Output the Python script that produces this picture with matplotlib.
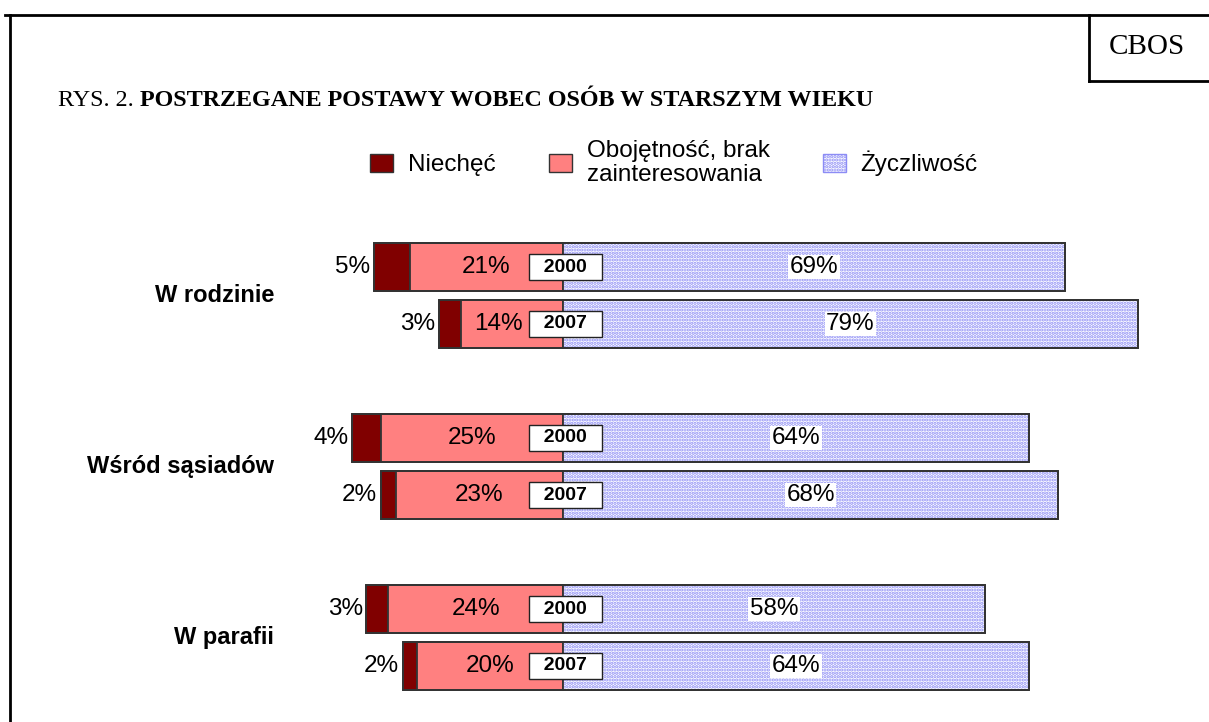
import matplotlib
matplotlib.use("Agg")
import matplotlib.pyplot as plt
from matplotlib.patches import Patch
from matplotlib.lines import Line2D

plt.rcParams['hatch.linewidth'] = 1.6
plt.rcParams['font.family'] = ['Liberation Sans', 'DejaVu Sans']

categories = ['W rodzinie', 'Wśród sąsiadów', 'W parafii']
years = ['2000', '2007']
niechec = [5, 3, 4, 2, 3, 2]
obojetnosc = [21, 14, 25, 23, 24, 20]
zyczliwosc = [69, 79, 64, 68, 58, 64]
series_names = ['Niechęć', 'Obojętność, brak\nzainteresowania', 'Życzliwość']

C_DARK = '#800000'
C_SALMON = '#FF8080'
C_DOT = '#8C8CF5'
EDGE = '#333333'

W, H = 1209, 722
fig = plt.figure(figsize=(W / 100, H / 100), dpi=100)
ax = fig.add_axes([0, 0, 1, 1])
ax.set_axis_off()

px_per_pct = 7.28
zero_px = 563
ax.set_xlim(-zero_px / px_per_pct, (W - zero_px) / px_per_pct)
row_px = 57
first_px = 267
ax.set_ylim((H - first_px) / row_px, -first_px / row_px)

ypos = []
for g in range(len(categories)):
    for j in range(len(years)):
        ypos.append(g * 3 + j)

bh = 0.84
FS = 17.5
for i, y in enumerate(ypos):
    n, o, z = niechec[i], obojetnosc[i], zyczliwosc[i]
    ax.barh(y, n, left=-(n + o), height=bh, color=C_DARK, edgecolor=EDGE, linewidth=1.3, zorder=2)
    ax.barh(y, o, left=-o, height=bh, color=C_SALMON, edgecolor=EDGE, linewidth=1.3, zorder=2)
    ax.barh(y, z, left=0, height=bh, facecolor='white', edgecolor=C_DOT, hatch='.....', linewidth=0, zorder=2)
    ax.barh(y, z, left=0, height=bh, fill=False, edgecolor=EDGE, linewidth=1.3, zorder=3)
    ax.barh(y, n + o + z, left=-(n + o), height=bh, fill=False, edgecolor=EDGE, linewidth=1.3, zorder=3)
    # labels
    ax.text(-(n + o) - 0.5, y, f'{n}%', ha='right', va='center', fontsize=FS, zorder=5)
    ax.text(min(-o / 2, -8.8), y, f'{o}%', ha='center', va='center', fontsize=FS, zorder=5)
    ax.text(z / 2, y, f'{z}%', ha='center', va='center', fontsize=FS, zorder=5,
            bbox=dict(facecolor='white', edgecolor='none', pad=1.0))
    ax.text(0.34, y, '  ' + years[i % 2] + '  ', ha='center', va='center', fontsize=14,
            fontweight='bold', zorder=6,
            bbox=dict(boxstyle='square,pad=0.22', facecolor='white', edgecolor='#222222', linewidth=1))

for g, cat in enumerate(categories):
    ax.text(-39.7, g * 3 + 0.5, cat, ha='right', va='center', fontsize=17, fontweight='bold')

# title
TY = 1 - 100 / H
t = fig.text(58 / W, TY, 'RYS. 2. ', fontsize=17.4, family='Liberation Serif', va='center')
fig.canvas.draw()
bb = t.get_window_extent()
fig.text(bb.x1 / W, TY, 'POSTRZEGANE POSTAWY WOBEC OSÓB W STARSZYM WIEKU',
         fontsize=17.4, family='Liberation Serif', fontweight='bold', va='center')

fig.text(1147 / W, 1 - 47 / H, 'CBOS', fontsize=21, family='Liberation Serif', ha='center', va='center')

# frame
lw = 2
fig.add_artist(Line2D([5 / W, 1], [1 - 15 / H, 1 - 15 / H], color='black', lw=lw))
fig.add_artist(Line2D([10 / W, 10 / W], [0, 1 - 15 / H], color='black', lw=lw))
fig.add_artist(Line2D([1089 / W, 1089 / W], [1 - 15 / H, 1 - 81 / H], color='black', lw=lw))
fig.add_artist(Line2D([1089 / W, 1], [1 - 81 / H, 1 - 81 / H], color='black', lw=lw))

handles = [Patch(facecolor=C_DARK, edgecolor=EDGE),
           Patch(facecolor=C_SALMON, edgecolor=EDGE),
           Patch(facecolor='white', edgecolor=C_DOT, hatch='.....')]
leg = fig.legend(handles, series_names, ncol=3, loc='center', bbox_to_anchor=(674 / W, 1 - 163 / H),
                 frameon=False, fontsize=17.5, handlelength=0.95, handleheight=0.74,
                 handletextpad=0.6, columnspacing=2.2, labelspacing=0.1)
for txt in leg.get_texts():
    txt.set_linespacing(1.15)

fig.savefig('out.png', dpi=100)
